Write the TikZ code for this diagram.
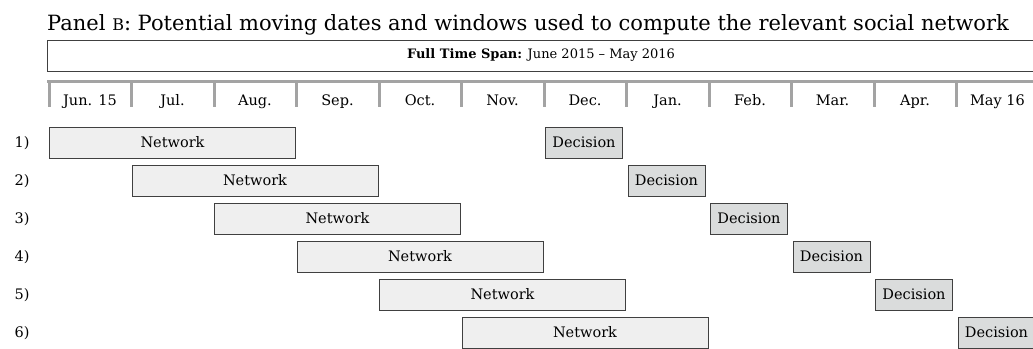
\documentclass[tikz,border=0pt]{standalone}
\usepackage{fontspec}
\setmainfont{DejaVu Serif}
\usepackage{xcolor}
\usetikzlibrary{positioning,calc}
\definecolor{tickgray}{HTML}{A3A3A3}
\definecolor{boxline}{HTML}{404040}
\definecolor{netfill}{HTML}{EFEFEF}
\definecolor{decfill}{HTML}{DADCDC}

\begin{document}
\begin{tikzpicture}[x=1pt,y=1pt,
  lbl/.style={inner sep=0pt,font=\fontsize{14.5}{18}\selectfont},
  netbox/.style={draw=boxline,line width=1pt,fill=netfill,minimum width=246pt,minimum height=31pt,anchor=west,inner sep=0pt,font=\fontsize{14.5}{18}\selectfont},
  decbox/.style={draw=boxline,line width=1pt,fill=decfill,minimum width=77pt,minimum height=31pt,anchor=west,inner sep=0pt,font=\fontsize{14.5}{18}\selectfont}]
  \useasboundingbox (0,0) rectangle (1033,-348);
  \node[anchor=base west,inner sep=0pt,font=\fontsize{21}{24}\selectfont] (title) at (47,-30) {Panel {\fontsize{16}{18}\selectfont B}: Potential moving dates and windows used to compute the relevant social network};
  \node[draw=boxline,line width=1pt,minimum width=988pt,minimum height=31pt,inner sep=0pt,font=\fontsize{13}{15}\selectfont] (span) at (541,-55.5) {\textbf{Full Time Span:} June 2015 -- May 2016};
  \draw[tickgray,line width=3pt] (47,-81.5) -- (1033,-81.5);
  \foreach \m [count=\i from 0] in {Jun. 15,Jul.,Aug.,Sep.,Oct.,Nov.,Dec.,Jan.,Feb.,Mar.,Apr.,May 16} {
    \draw[tickgray,line width=3pt] (49+\i*82.5,-80) -- (49+\i*82.5,-107);
    \node[lbl,anchor=base] (m\i) at (90+\i*82.5,-105) {\m};
  }
  \foreach \k in {1,...,6} {
    \node[lbl] (r\k) at (22,-143.5-38*\k+38) {\k)};
    \node[netbox] (net\k) at (49+82.5*\k-82.5,-142.5-38*\k+38) {Network};
    \node[decbox] (dec\k) at (50+82.5*\k+412.5,-142.5-38*\k+38) {Decision};
  }
\end{tikzpicture}
\end{document}
